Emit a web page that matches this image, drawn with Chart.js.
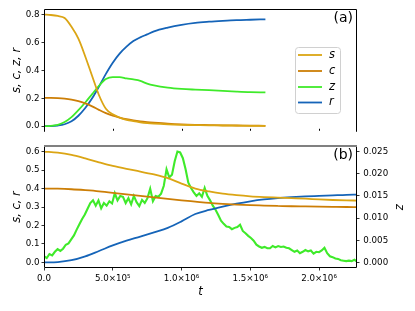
<!DOCTYPE html>
<html>
<head>
<meta charset="utf-8">
<script src="https://cdn.jsdelivr.net/npm/chart.js@4.4.0/dist/chart.umd.min.js"></script>
<style>
body { margin: 0; background: #fff; }
#wrap { position: relative; width: 415px; height: 311px; overflow: hidden; }
canvas { position: absolute; left: 0; }
</style>
</head>
<body>
<div id="wrap">
  <canvas id="chartA" width="415" height="139" style="top:0px"></canvas>
  <canvas id="chartB" width="415" height="174" style="top:137px"></canvas>
</div>
<script>
// ---- data (a) ----
const tTop = [0, 50000, 100000, 150000, 200000, 250000, 300000, 350000, 400000, 450000, 500000,
  550000, 600000, 650000, 700000, 750000, 800000, 900000, 1000000, 1100000, 1200000, 1300000,
  1400000, 1500000, 1610000];
const sTop = [0.800, 0.797, 0.790, 0.775, 0.712, 0.627, 0.500, 0.360, 0.222, 0.125, 0.085,
  0.062, 0.046, 0.036, 0.028, 0.022, 0.018, 0.013, 0.010, 0.008, 0.006, 0.005, 0.004, 0.003, 0.003];
const cTop = [0.203, 0.203, 0.201, 0.197, 0.190, 0.179, 0.163, 0.142, 0.117, 0.094, 0.076,
  0.062, 0.050, 0.041, 0.034, 0.029, 0.025, 0.018, 0.013, 0.010, 0.008, 0.006, 0.005, 0.004, 0.003];
const zTop = [0.000, 0.002, 0.010, 0.030, 0.065, 0.115, 0.170, 0.230, 0.290, 0.338, 0.352,
  0.352, 0.342, 0.335, 0.325, 0.305, 0.292, 0.276, 0.267, 0.262, 0.258, 0.253, 0.248, 0.244, 0.242];
const rTop = [0.000, 0.001, 0.005, 0.014, 0.035, 0.075, 0.130, 0.200, 0.285, 0.375, 0.455,
  0.520, 0.570, 0.610, 0.637, 0.658, 0.680, 0.707, 0.727, 0.741, 0.749, 0.755, 0.760, 0.763, 0.766];

// ---- data (b) ----
const tBot = [0, 100000, 200000, 300000, 400000, 500000, 600000, 700000, 800000, 900000, 1000000,
  1100000, 1200000, 1300000, 1400000, 1500000, 1600000, 1700000, 1800000, 1900000, 2000000,
  2100000, 2200000, 2276000];
const sBot = [0.600, 0.594, 0.582, 0.563, 0.542, 0.522, 0.506, 0.492, 0.476, 0.456, 0.427,
  0.400, 0.384, 0.372, 0.364, 0.358, 0.354, 0.351, 0.348, 0.345, 0.341, 0.338, 0.336, 0.335];
const cBot = [0.400, 0.399, 0.396, 0.391, 0.385, 0.377, 0.368, 0.360, 0.352, 0.344, 0.336,
  0.329, 0.322, 0.317, 0.313, 0.310, 0.308, 0.306, 0.304, 0.303, 0.302, 0.301, 0.300, 0.299];
const rBot = [0.000, 0.002, 0.012, 0.033, 0.062, 0.092, 0.118, 0.140, 0.163, 0.187, 0.222,
  0.262, 0.284, 0.302, 0.318, 0.331, 0.341, 0.348, 0.353, 0.357, 0.360, 0.363, 0.366, 0.367];
// z (right axis), one value every zStep
const zStep = 19800;
const zBot = [
  0.0014, 0.0010, 0.0019, 0.0016, 0.0024, 0.0030, 0.0026, 0.0031, 0.0040, 0.0043,
  0.0052, 0.0061, 0.0074, 0.0086, 0.0098, 0.0108, 0.0121, 0.0134, 0.0140, 0.0128,
  0.0140, 0.0122, 0.0134, 0.0128, 0.0138, 0.0133, 0.0156, 0.0140, 0.0150, 0.0148,
  0.0134, 0.0145, 0.0131, 0.0150, 0.0136, 0.0127, 0.0141, 0.0134, 0.0145, 0.0166,
  0.0138, 0.0150, 0.0148, 0.0155, 0.0173, 0.0210, 0.0192, 0.0198, 0.0228, 0.0250,
  0.0248, 0.0235, 0.0210, 0.0180, 0.0168, 0.0158, 0.0150, 0.0156, 0.0148, 0.0168,
  0.0150, 0.0140, 0.0128, 0.0119, 0.0107, 0.0094, 0.0087, 0.0081, 0.0080, 0.0075,
  0.0078, 0.0080, 0.0085, 0.0071, 0.0066, 0.0060, 0.0055, 0.0049, 0.0040, 0.0036,
  0.0033, 0.0035, 0.0032, 0.0032, 0.0037, 0.0034, 0.0037, 0.0035, 0.0036, 0.0033,
  0.0032, 0.0028, 0.0024, 0.0027, 0.0021, 0.0024, 0.0028, 0.0025, 0.0027, 0.0020,
  0.0024, 0.0023, 0.0027, 0.0033, 0.0021, 0.0014, 0.0012, 0.0009, 0.0008, 0.0005,
  0.0004, 0.0003, 0.0004, 0.0003, 0.0006, 0.0002
];

// ---- ticks ----
const xTicks = [0, 500000, 1000000, 1500000, 2000000];
const xLabels = ['0.0', '5.0×10⁵', '1.0×10⁶', '1.5×10⁶', '2.0×10⁶'];
const yTopTicks = [0, 0.2, 0.4, 0.6, 0.8];
const yTopLabels = ['0.0', '0.2', '0.4', '0.6', '0.8'];
const yBotTicks = [0, 0.1, 0.2, 0.3, 0.4, 0.5, 0.6];
const yBotLabels = ['0.0', '0.1', '0.2', '0.3', '0.4', '0.5', '0.6'];
const zTicks = [0, 0.005, 0.01, 0.015, 0.02, 0.025];
const zLabels = ['0.000', '0.005', '0.010', '0.015', '0.020', '0.025'];

const names = ['s', 'c', 'z', 'r'];
const colors = ['#dba514', '#cc7e06', '#3fea2a', '#1564b8'];

Chart.defaults.font.family = 'DejaVu Sans';
Chart.defaults.color = '#000';

const pts = (ts, vs) => vs.map((v, i) => ({ x: ts[i], y: v }));
const zPts = zBot.map((v, i) => ({ x: i * zStep, y: v }));

const tickFont = { size: 8.7 };
const titleFont = { size: 11.5, style: 'italic' };
const gridOpt = { drawOnChartArea: false, drawTicks: true, tickLength: 2.5, color: '#000', lineWidth: 0.8 };

const setTicks = (vals) => (axis) => { axis.ticks = vals.map(v => ({ value: v })); };

const lineDs = (label, data, color, axis) => ({
  label: label, data: data, borderColor: color, borderWidth: 1.8,
  pointRadius: 0, fill: false, cubicInterpolationMode: 'monotone', yAxisID: axis || 'y'
});

// frame, panel label and legend
const decoTop = {
  id: 'decoTop',
  afterDraw(chart) {
    const { ctx, chartArea: a, scales } = chart;
    ctx.save();
    ctx.strokeStyle = '#000';
    ctx.lineWidth = 1;
    ctx.beginPath();
    ctx.moveTo(a.left + 0.5, a.bottom);
    ctx.lineTo(a.left + 0.5, a.top + 0.5);
    ctx.lineTo(a.right - 0.5, a.top + 0.5);
    ctx.lineTo(a.right - 0.5, a.bottom);
    xTicks.forEach(v => {
      const x = Math.round(scales.x.getPixelForValue(v)) + 0.5;
      ctx.moveTo(x, a.bottom - 3);
      ctx.lineTo(x, a.bottom - 1);
    });
    ctx.stroke();

    ctx.font = '14px DejaVu Sans';
    ctx.fillStyle = '#000';
    ctx.textAlign = 'right';
    ctx.textBaseline = 'middle';
    ctx.fillText('(a)', a.right - 4, a.top + 9);

    // legend box
    ctx.beginPath();
    ctx.roundRect(295.5, 47.5, 45, 66, 3);
    ctx.fillStyle = 'rgba(255,255,255,0.8)';
    ctx.fill();
    ctx.strokeStyle = '#d0d0d0';
    ctx.lineWidth = 1;
    ctx.stroke();
    const rows = [55, 71, 87, 102.5];
    ctx.font = 'italic 11.5px DejaVu Sans';
    ctx.textAlign = 'left';
    names.forEach((n, i) => {
      ctx.strokeStyle = colors[i];
      ctx.lineWidth = 1.8;
      ctx.beginPath();
      ctx.moveTo(298, rows[i]);
      ctx.lineTo(322, rows[i]);
      ctx.stroke();
      ctx.fillStyle = '#000';
      ctx.fillText(n, 329, rows[i]);
    });
    ctx.restore();
  }
};

const decoBot = {
  id: 'decoBot',
  afterDraw(chart) {
    const { ctx, chartArea: a } = chart;
    ctx.save();
    ctx.strokeStyle = '#000';
    ctx.lineWidth = 1;
    ctx.beginPath();
    ctx.moveTo(a.left + 0.5, a.top);
    ctx.lineTo(a.left + 0.5, a.bottom - 0.5);
    ctx.lineTo(a.right - 0.5, a.bottom - 0.5);
    ctx.lineTo(a.right - 0.5, a.top);
    ctx.stroke();
    // shared gray edge
    ctx.strokeStyle = '#808080';
    ctx.lineWidth = 2;
    ctx.beginPath();
    ctx.moveTo(a.left, a.top);
    ctx.lineTo(a.right, a.top);
    ctx.stroke();

    ctx.font = '14px DejaVu Sans';
    ctx.fillStyle = '#000';
    ctx.textAlign = 'right';
    ctx.textBaseline = 'middle';
    ctx.fillText('(b)', a.right - 4, a.top + 9);
    ctx.restore();
  }
};

// ---- chart (a) ----
new Chart(document.getElementById('chartA'), {
  type: 'line',
  data: {
    datasets: [
      lineDs('s', pts(tTop, sTop), colors[0]),
      lineDs('c', pts(tTop, cTop), colors[1]),
      lineDs('z', pts(tTop, zTop), colors[2]),
      lineDs('r', pts(tTop, rTop), colors[3])
    ]
  },
  options: {
    responsive: false,
    animation: false,
    layout: { autoPadding: false, padding: { left: 0, right: 58, top: 9, bottom: 0 } },
    plugins: { legend: { display: false }, tooltip: { enabled: false } },
    scales: {
      x: {
        type: 'linear', min: 0, max: 2276000, display: false,
        afterFit: (s) => { s.height = 0; }
      },
      y: {
        min: -0.04, max: 0.84,
        afterBuildTicks: setTicks(yTopTicks),
        afterFit: (s) => { s.width = 44; },
        ticks: { font: tickFont, padding: 2, callback: (v, i) => yTopLabels[i] },
        grid: gridOpt,
        border: { display: false },
        title: { display: true, text: 's, c, z, r', font: titleFont, padding: { top: 10, bottom: 0 } }
      }
    }
  },
  plugins: [decoTop]
});

// ---- chart (b) ----
new Chart(document.getElementById('chartB'), {
  type: 'line',
  data: {
    datasets: [
      lineDs('s', pts(tBot, sBot), colors[0]),
      lineDs('c', pts(tBot, cBot), colors[1]),
      lineDs('r', pts(tBot, rBot), colors[3]),
      { label: 'z', data: zPts, borderColor: colors[2], borderWidth: 2.1, pointRadius: 0,
        fill: false, tension: 0, yAxisID: 'y1' }
    ]
  },
  options: {
    responsive: false,
    animation: false,
    layout: { autoPadding: false, padding: { left: 0, right: 0, top: 2, bottom: 0 } },
    plugins: { legend: { display: false }, tooltip: { enabled: false } },
    scales: {
      x: {
        type: 'linear', min: 0, max: 2276000,
        afterBuildTicks: setTicks(xTicks),
        afterFit: (s) => { s.height = 43; },
        ticks: { font: tickFont, padding: 3, maxRotation: 0, autoSkip: false, callback: (v, i) => xLabels[i] },
        grid: gridOpt,
        border: { display: false },
        title: { display: true, text: 't', font: titleFont, padding: { top: 0, bottom: 12 } }
      },
      y: {
        position: 'left', min: -0.03, max: 0.63,
        afterBuildTicks: setTicks(yBotTicks),
        afterFit: (s) => { s.width = 44; },
        ticks: { font: tickFont, padding: 2, callback: (v, i) => yBotLabels[i] },
        grid: gridOpt,
        border: { display: false },
        title: { display: true, text: 's, c, r', font: titleFont, padding: { top: 10, bottom: 0 } }
      },
      y1: {
        position: 'right', min: -0.00125, max: 0.02625,
        afterBuildTicks: setTicks(zTicks),
        afterFit: (s) => { s.width = 58; },
        ticks: { font: tickFont, padding: 3.8, callback: (v, i) => zLabels[i] },
        grid: gridOpt,
        border: { display: false },
        title: { display: true, text: 'z', font: titleFont, padding: { top: 9.5, bottom: 0 } }
      }
    }
  },
  plugins: [decoBot]
});
</script>
</body>
</html>
